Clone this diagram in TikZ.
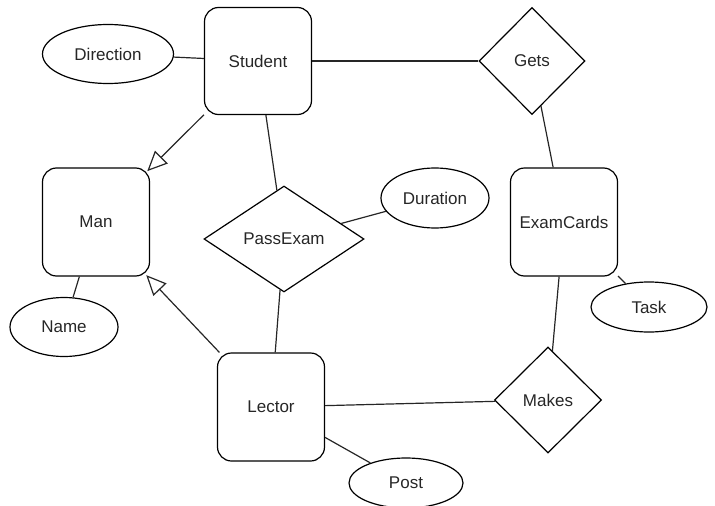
\documentclass[tikz,border=0pt]{standalone}
\usepackage{fontspec}
\setmainfont{Liberation Sans}
\usetikzlibrary{shapes.geometric,arrows.meta}
\begin{document}
\begin{tikzpicture}[x=1pt,y=-1pt,
  every node/.style={font=\fontsize{17}{20}\selectfont, text=black!85},
  entity/.style={draw, rectangle, rounded corners=14pt, line width=1.2pt,
    minimum width=107pt, minimum height=107pt, inner sep=0pt},
  relation/.style={draw, diamond, line width=1.2pt, inner sep=0pt, aspect=1},
  attrib/.style={draw, ellipse, line width=1.2pt, inner sep=0pt},
  link/.style={line width=1.2pt, draw=black!85},
  isa/.style={link, -{Triangle[open, length=20pt, width=18pt]}}]
\useasboundingbox (0,0) rectangle (715,506);

% entities
\node[entity] (stu) at (258,61) {Student};
\node[entity, minimum height=108pt] (man) at (96,222) {Man};
\node[entity, minimum height=108pt] (cards) at (564,222) {ExamCards};
\node[entity, minimum height=108pt] (lec) at (271,407) {Lector};

% relationships
\node[relation, minimum width=106pt, minimum height=107pt] (gets) at (532,61) {Gets};
\node[relation, aspect=1.5, minimum width=160pt, minimum height=106pt] (pass) at (284,239) {PassExam};
\node[relation, minimum width=107pt, minimum height=106pt] (makes) at (548,400) {Makes};

% attributes
\node[attrib, minimum width=131pt, minimum height=59pt] (dir) at (108,54) {Direction};
\node[attrib, minimum width=108pt, minimum height=60pt] (dur) at (435,198) {Duration};
\node[attrib, minimum width=108pt, minimum height=59pt] (name) at (64,327) {Name};
\node[attrib, minimum width=116pt, minimum height=50pt] (task) at (649,307) {Task};
\node[attrib, minimum width=114pt, minimum height=50pt] (post) at (406,483) {Post};

% connectors
\draw[link] (dir) -- (stu);
\draw[link] (stu) -- (gets);
\draw[link] (gets) -- (cards);
\draw[link] (stu) -- (pass);
\draw[link] (pass) -- (dur);
\draw[link] (man) -- (name);
\draw[link] (pass) -- (lec);
\draw[link] (lec) -- (makes);
\draw[link] (makes) -- (cards);
\draw[link] (cards) -- (task);
\draw[link] (lec) -- (post);

% generalisation arrows, tips reaching the rounded corners of Man
\draw[isa, shorten >=-4pt] (stu) -- (man);
\draw[isa, shorten >=-2pt] (lec) -- (man);
\end{tikzpicture}
\end{document}
